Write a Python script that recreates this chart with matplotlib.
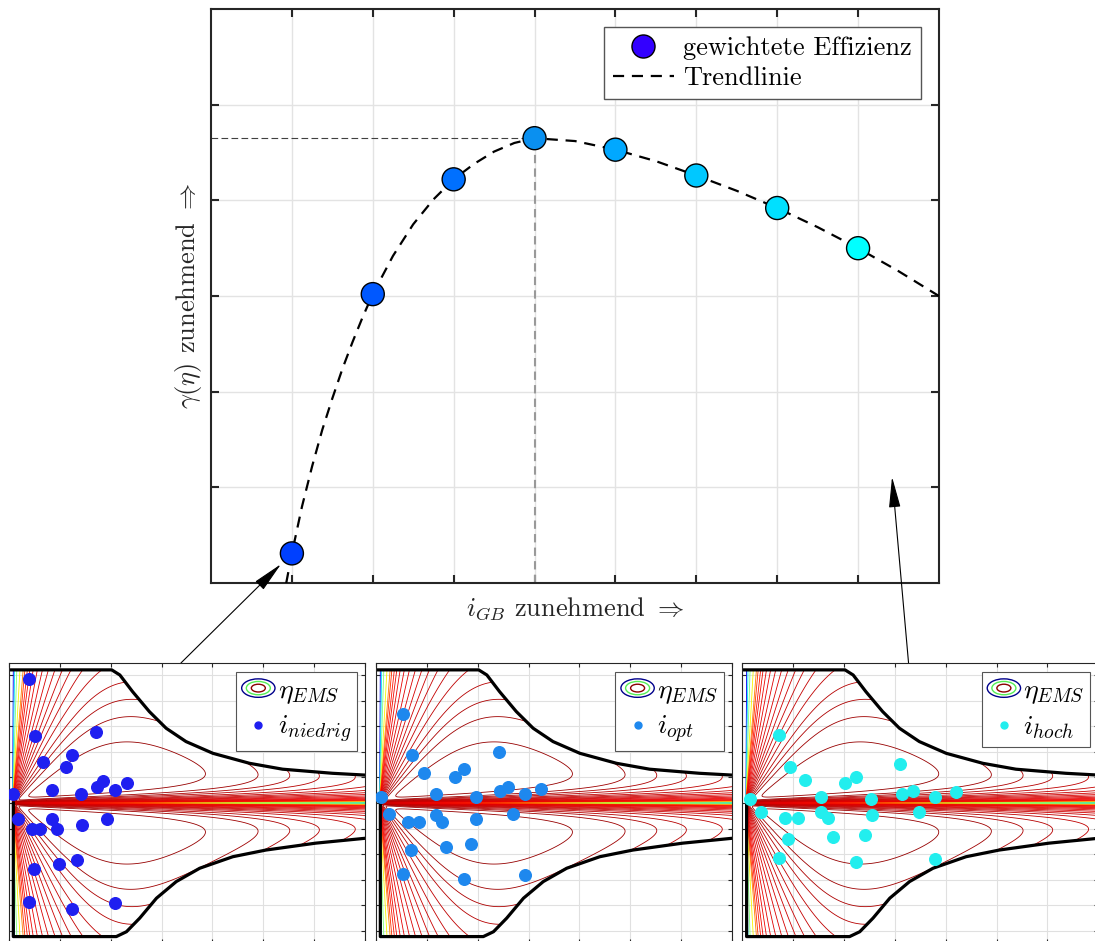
import numpy as np
import matplotlib
matplotlib.use("Agg")
import matplotlib.pyplot as plt
from matplotlib.lines import Line2D
from matplotlib.patches import Ellipse
from matplotlib.legend_handler import HandlerBase

plt.rcParams["font.family"] = "serif"
plt.rcParams["font.serif"] = ["cmr10"]
plt.rcParams["mathtext.fontset"] = "cm"
plt.rcParams["axes.formatter.use_mathtext"] = True

# weighted efficiency over gear ratio
gb_x = [1, 2, 3, 4, 5, 6, 7, 8]
gamma = [0.31, 3.02, 4.22, 4.65, 4.53, 4.26, 3.92, 3.50]
point_colors = ["#0040ff", "#0058ff", "#0070ff", "#0a90f0",
                "#00a8ff", "#00c8ff", "#00e0ff", "#00ffff"]

# trend line
trend_x = [0.93, 1.0, 1.125, 1.25, 1.375, 1.5, 1.625, 1.75, 1.875, 2.0,
           2.25, 2.5, 2.75, 3.0, 3.25, 3.5, 3.75, 4.0, 4.5, 5.0, 5.5,
           6.0, 6.5, 7.0, 7.5, 8.0, 8.5, 9.0]
trend_y = [0.0, 0.31, 0.80, 1.22, 1.60, 1.93, 2.24, 2.52, 2.78, 3.02,
           3.42, 3.75, 4.01, 4.22, 4.38, 4.51, 4.60, 4.65, 4.62, 4.53, 4.41,
           4.26, 4.10, 3.92, 3.72, 3.50, 3.26, 3.00]

# operating points (speed, torque) in the three maps
niedrig_n = [0.40, 0.51, 1.72, 1.23, 0.67, 1.12, 1.85, 1.73, 2.33, 2.08, 0.85, 1.41, 0.07,
             0.18, 0.85, 1.92, 0.45, 0.61, 0.94, 1.43, 0.98, 1.33, 0.50, 0.39, 1.23, 2.09]
niedrig_t = [4.84, 2.62, 2.79, 1.88, 1.61, 1.41, 0.86, 0.63, 0.78, 0.50, 0.50, 0.34, 0.34,
             -0.61, -0.64, -0.61, -1.02, -1.02, -1.02, -0.86, -2.38, -2.23, -2.59, -3.88, -4.14, -3.92]
opt_n = [0.54, 0.70, 0.94, 1.56, 1.73, 2.41, 1.18, 1.96, 2.43, 2.60, 2.92, 3.25, 0.09,
         0.25, 0.63, 0.85, 1.18, 1.30, 1.97, 2.69, 0.68, 1.37, 1.87, 0.54, 1.73, 2.93]
opt_t = [3.46, 1.88, 1.16, 1.00, 1.34, 1.99, 0.34, 0.25, 0.46, 0.61, 0.34, 0.55, 0.25,
         -0.44, -0.74, -0.74, -0.47, -0.74, -0.61, -0.44, -1.85, -1.71, -1.60, -2.79, -2.97, -2.81]
hoch_n = [0.72, 0.93, 1.23, 2.02, 2.23, 3.11, 1.54, 2.53, 3.14, 3.35, 3.78, 4.20, 0.15,
          0.36, 0.84, 1.10, 1.54, 1.69, 2.56, 3.47, 0.90, 1.78, 2.41, 0.72, 2.23, 3.78]
hoch_t = [2.66, 1.42, 0.89, 0.77, 1.02, 1.54, 0.25, 0.17, 0.34, 0.46, 0.25, 0.42, 0.17,
          -0.34, -0.59, -0.59, -0.36, -0.59, -0.48, -0.34, -1.42, -1.32, -1.25, -2.16, -2.29, -2.19]

maps = [(niedrig_n, niedrig_t, "#1f1ff0", r"$i_{niedrig}$"),
        (opt_n, opt_t, "#1e88ee", r"$i_{opt}$"),
        (hoch_n, hoch_t, "#22eeee", r"$i_{hoch}$")]

# torque limit of the machine
limit_up_n = [0.02, 2.02, 2.18, 2.43, 2.76, 3.09, 3.48, 4.01, 4.73, 5.38, 6.36, 7.0]
limit_up_t = [5.2, 5.2, 5.0, 4.35, 3.57, 2.92, 2.40, 1.94, 1.55, 1.32, 1.16, 1.09]
limit_lo_n = [0.085, 0.085, 2.11, 2.31, 2.57, 2.90, 3.29, 3.75, 4.40, 5.05, 6.03, 7.0]
limit_lo_t = [0.0, -5.22, -5.22, -5.03, -4.5, -3.72, -3.07, -2.55, -2.10, -1.84, -1.57, -1.38]

eta_levels = [0.043, 0.114, 0.205, 0.311, 0.392,
              0.429, 0.474, 0.512, 0.556, 0.6, 0.643, 0.682, 0.715, 0.744, 0.769, 0.793,
              0.816, 0.839, 0.857, 0.875, 0.901]
eta_color_pos = [0.1, 0.35, 0.5, 0.65, 0.77,
                 0.86, 0.89, 0.9, 0.905, 0.91, 0.915, 0.92, 0.925, 0.93, 0.935, 0.94,
                 0.945, 0.95, 0.96, 0.97, 0.98]

# simple loss model for the efficiency map (copper loss grows in field weakening)
speed = np.linspace(0, 7, 701)
torque = np.unique(np.concatenate([np.linspace(-5.5, 5.5, 1101), np.linspace(-0.1, 0.1, 401)]))
S, M = np.meshgrid(speed, torque)
n = np.clip(S - 0.07, 0, None)
t = np.abs(M)
loss = 0.0618 * (1 + 0.036 * n**3) * t**2 + 0.02486 * n**1.42 + 0.00132 * n**3
eta = t * n / (t * n + loss + 1e-12)
top = np.interp(S, limit_up_n, limit_up_t)
bot = np.interp(S, limit_lo_n[1:], limit_lo_t[1:])
eta = np.ma.masked_where((M > top) | (M < bot) | (S < 0.07), eta)
level_colors = plt.cm.jet(eta_color_pos)


class ContourHandle(HandlerBase):
    def create_artists(self, legend, orig_handle, xdescent, ydescent,
                       width, height, fontsize, trans):
        cx = width / 2 - xdescent
        cy = height / 2 - ydescent
        out = []
        for k, col in [(1.0, "#00008b"), (0.72, "#55ee55"), (0.42, "#8b0000")]:
            out.append(Ellipse((cx, cy), width * k, height * 0.95 * k, fill=False,
                               edgecolor=col, lw=1, transform=trans))
        return out


fig = plt.figure(figsize=(10.95, 9.41), dpi=100)
ax = fig.add_axes([0.1927, 0.3804, 0.6648, 0.61])

ax.plot([0, gb_x[3]], [gamma[3], gamma[3]], color="#404040", lw=0.8, dashes=(6, 3), zorder=2)
ax.plot([gb_x[3], gb_x[3]], [0, gamma[3]], color="#999999", lw=1.5, dashes=(4, 2.5), zorder=2)
ax.plot(trend_x, trend_y, color="black", lw=1.6, dashes=(5, 3.5), zorder=3)
ax.scatter(gb_x, gamma, s=275, c=point_colors, edgecolors="black", linewidths=1, zorder=4)

ax.set_xlim(0, 9)
ax.set_ylim(0, 6)
ax.set_xticks(range(1, 9))
ax.set_yticks(range(1, 6))
ax.grid(True, color="#e3e3e3", lw=1)
ax.set_axisbelow(True)
ax.tick_params(direction="in", length=6, width=1.5, top=True, right=True,
               labelbottom=False, labelleft=False, colors="#262626")
for sp in ax.spines.values():
    sp.set_linewidth(1.5)
    sp.set_color("#262626")
ax.set_xlabel(r"$i_{GB}$ zunehmend $\Rightarrow$", fontsize=19, labelpad=9, color="#262626")
ax.set_ylabel(r"$\gamma(\eta)$ zunehmend $\Rightarrow$", fontsize=19, labelpad=5, color="#262626")

main_handles = [Line2D([], [], ls="none", marker="o", markersize=16.6,
                       markerfacecolor="#3300ff", markeredgecolor="black"),
                Line2D([], [], color="black", lw=1.6, dashes=(5, 3.5))]
leg = ax.legend(main_handles, ["gewichtete Effizienz", "Trendlinie"], loc="upper right",
                bbox_to_anchor=(0.975, 0.969), borderaxespad=0, fontsize=19,
                fancybox=False, framealpha=1, edgecolor="#555555", handlelength=2.3,
                handletextpad=0.35, labelspacing=0.25, borderpad=0.35)
leg.get_frame().set_linewidth(1)

lefts = [9, 376, 742.3]
insets = []
for left, (pn, pt, col, lab) in zip(lefts, maps):
    ia = fig.add_axes([left / 1095, -0.0021, 356 / 1095, 280 / 941])
    ia.contour(S, M, eta, levels=eta_levels, colors=level_colors, linewidths=0.6)
    ia.plot(limit_up_n, limit_up_t, color="black", lw=2.3)
    ia.plot(limit_lo_n, limit_lo_t, color="black", lw=2.3)
    ia.scatter(pn, pt, s=70, color=col, zorder=5)
    ia.set_xlim(0, 7)
    ia.set_ylim(-5.47, 5.47)
    ia.set_xticks(range(0, 8))
    ia.set_yticks(range(-5, 6))
    ia.grid(True, color="#e0e0e0", lw=0.8)
    ia.set_axisbelow(True)
    ia.tick_params(direction="in", length=3, width=0.8, top=True, right=True,
                   labelbottom=False, labelleft=False, colors="#262626")
    for sp in ia.spines.values():
        sp.set_linewidth(0.8)
        sp.set_color("#262626")
    proxy = Ellipse((0, 0), 1, 1)
    dot = Line2D([], [], ls="none", marker="o", markersize=5, color=col)
    il = ia.legend([proxy, dot], [r"$\eta_{EMS}$", lab], loc="upper right",
                   bbox_to_anchor=(0.978, 0.968), borderaxespad=0, fontsize=20,
                   handler_map={proxy: ContourHandle()}, fancybox=False, framealpha=1,
                   edgecolor="#555555", handlelength=1.2, handletextpad=0.1,
                   labelspacing=0.3, borderpad=0.2)
    il.get_frame().set_linewidth(0.8)
    insets.append(ia)

arrow = dict(arrowstyle="-|>,head_length=1.6,head_width=0.3", color="black",
             lw=0.8, shrinkA=0, shrinkB=11, mutation_scale=12)
ax.annotate("", xy=(gb_x[0], gamma[0]), xycoords="data",
            xytext=(0.483, 1.0), textcoords=insets[0].transAxes, arrowprops=arrow)
arrow2 = dict(arrow, shrinkB=0)
ax.annotate("", xy=(8.42, 1.11), xycoords="data",
            xytext=(0.467, 1.0), textcoords=insets[2].transAxes, arrowprops=arrow2)

fig.savefig("out.png", dpi=100)
